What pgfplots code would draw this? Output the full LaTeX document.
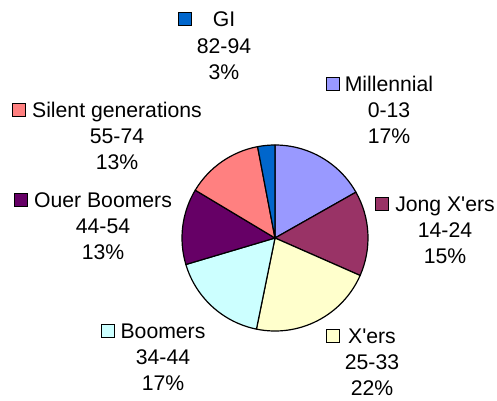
\documentclass[border=0pt]{standalone}
\usepackage{fontspec}
\setmainfont{Liberation Sans}[Ligatures=TeXOff]
\usepackage{pgfplots}
\pgfplotsset{compat=1.18}

\definecolor{cMil}{HTML}{9999FF}
\definecolor{cJong}{HTML}{993366}
\definecolor{cXers}{HTML}{FFFFCC}
\definecolor{cBoom}{HTML}{CCFFFF}
\definecolor{cOuer}{HTML}{660066}
\definecolor{cSil}{HTML}{FF8080}
\definecolor{cGI}{HTML}{0066CC}

\newcommand{\lblfont}{\fontsize{21.2bp}{26bp}\selectfont}

% slice: start angle, share in percent, colour
\newcommand{\slice}[3]{%
  \pgfmathsetmacro\endang{#1-3.6*#2}%
  \edef\tmp{\noexpand\filldraw[fill=#3, draw=black, line width=1.2bp, line join=round]
    (axis cs:275,238) -- ++(#1:93bp) arc[start angle=#1, end angle=\endang, radius=93bp] -- cycle;}%
  \tmp}

% label: x-centre, first baseline, square-x, name, range, percent, colour
\newcommand{\plabel}[7]{%
  \node[anchor=base, inner sep=0pt, font=\lblfont] at (axis cs:#1,#2) {#4};
  \node[anchor=base, inner sep=0pt, font=\lblfont] at (axis cs:#1,#2+26) {#5};
  \node[anchor=base, inner sep=0pt, text depth=0pt, font=\lblfont] at (axis cs:#1,#2+52) {#6};
  \draw[fill=#7, draw=black, line width=1bp] (axis cs:#3-6.5,#2-14) rectangle (axis cs:#3+6.5,#2-1);
}

\begin{document}
\begin{tikzpicture}
\useasboundingbox (0,0) rectangle (497bp,401bp);
\begin{axis}[
  at={(0,0)}, anchor=south west,
  hide axis, scale only axis,
  width=497bp, height=401bp,
  xmin=0, xmax=497, ymin=0, ymax=401,
  y dir=reverse, clip=false,
]
% shares (percent), clockwise from 12 o'clock
\slice{90}{16.8}{cMil}
\slice{29.52}{14.8}{cJong}
\slice{-23.76}{21.6}{cXers}
\slice{-101.52}{17.2}{cBoom}
\slice{-163.44}{13.2}{cOuer}
\slice{-210.96}{13.4}{cSil}
\slice{-259.2}{3.0}{cGI}

\plabel{224}{27}{185}{GI}{82-94}{3\%}{cGI}
\plabel{389}{91}{333}{Millennial}{0-13}{17\%}{cMil}
\plabel{117}{117.5}{19}{Silent generations}{55-74}{13\%}{cSil}
\plabel{103}{207.5}{21}{Ouer Boomers}{44-54}{13\%}{cOuer}
\plabel{445}{211}{382}{Jong X'ers}{14-24}{15\%}{cJong}
\plabel{372}{343.5}{333}{X'ers}{25-33}{22\%}{cXers}
\plabel{163}{338.5}{108}{Boomers}{34-44}{17\%}{cBoom}
\end{axis}
\end{tikzpicture}
\end{document}
